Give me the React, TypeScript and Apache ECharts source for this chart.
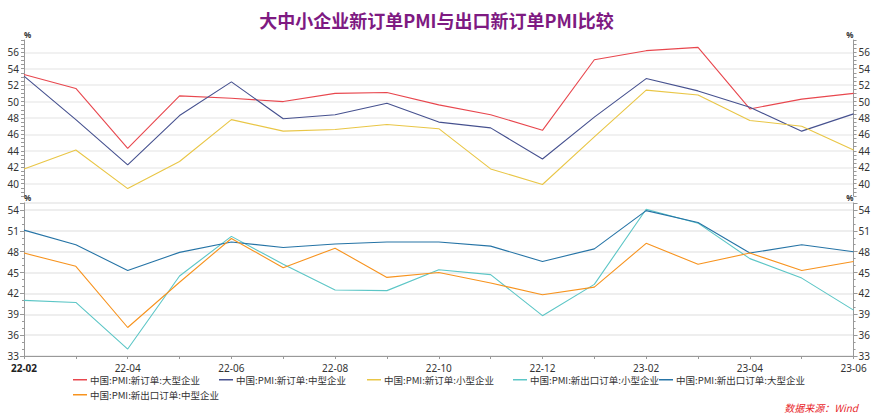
import React, { useEffect, useRef } from "react";
import * as echarts from "echarts";

const months = ["22-02","22-03","22-04","22-05","22-06","22-07","22-08","22-09","22-10","22-11","22-12","23-01","23-02","23-03","23-04","23-05","23-06"];

const newOrderLarge = [53.3,51.6,44.3,50.7,50.4,50.0,51.0,51.1,49.6,48.4,46.5,55.1,56.2,56.6,49.1,50.3,51.0];
const newOrderMedium = [53.1,47.8,42.3,48.3,52.4,47.9,48.4,49.8,47.5,46.8,43.0,48.1,52.8,51.3,49.3,46.4,48.5];
const newOrderSmall = [41.8,44.1,39.4,42.7,47.8,46.4,46.6,47.2,46.7,41.8,39.9,45.7,51.4,50.8,47.7,47.0,44.1];

const exportSmall = [41.0,40.7,34.0,44.5,50.2,46.2,42.5,42.4,45.4,44.7,38.8,43.3,54.1,52.1,47.0,44.2,39.6];
const exportLarge = [51.1,49.0,45.3,47.9,49.4,48.6,49.1,49.4,49.4,48.8,46.6,48.4,53.9,52.2,47.8,49.0,48.0];
const exportMedium = [47.8,45.9,37.1,43.6,49.9,45.7,48.5,44.3,45.0,43.5,41.8,42.9,49.2,46.2,47.8,45.3,46.6];

const topTicks = [40,42,44,46,48,50,52,54,56];

const names = [
  "中国:PMI:新订单:大型企业",
  "中国:PMI:新订单:中型企业",
  "中国:PMI:新订单:小型企业",
  "中国:PMI:新出口订单:小型企业",
  "中国:PMI:新出口订单:大型企业",
  "中国:PMI:新出口订单:中型企业",
];
const colors = ["#E8474E", "#46518F", "#E9C646", "#5CC6C6", "#2674A6", "#F7931E"];

const FONT = "'Noto Sans', 'Noto Sans CJK SC', sans-serif";
const CJK = "'Noto Sans CJK SC', 'Noto Sans', sans-serif";

export default function App() {
  const ref = useRef<HTMLDivElement>(null);
  useEffect(() => {
    if (!ref.current) return;
    const chart = echarts.init(ref.current, undefined, { renderer: "svg" });

    const yCommon = (pos: "left" | "right") => ({
      type: "value",
      position: pos,
      name: "%",
      nameLocation: "end",
      nameGap: 2,
      nameTextStyle: {
        fontSize: 8,
        fontWeight: "bold",
        color: "#333",
        align: pos === "left" ? "left" : "right",
        fontFamily: FONT,
      },
      axisLine: { show: true, lineStyle: { color: "#999", width: 1 } },
      axisLabel: { color: "#333", fontSize: 10, fontFamily: FONT, margin: 5 },
    });

    const topY = (pos: "left" | "right") => ({
      ...yCommon(pos),
      gridIndex: 0,
      min: 38.5,
      max: 57.5,
      interval: 0.5,
      axisTick: { show: true, length: 3, lineStyle: { color: "#999" } },
      axisLabel: {
        color: "#333",
        fontSize: 10,
        fontFamily: FONT,
        margin: 5,
        interval: 0,
        formatter: (v: number) => (topTicks.includes(v) ? String(v) : ""),
      },
      splitLine: { show: false },
    });

    const botY = (pos: "left" | "right") => ({
      ...yCommon(pos),
      gridIndex: 1,
      min: 33,
      max: 55,
      interval: 3,
      axisTick: { show: true, length: 4, lineStyle: { color: "#999" } },
      axisLabel: { color: "#333", fontSize: 10, fontFamily: FONT, margin: 5, lineHeight: 10 },
      minorTick: { show: true, splitNumber: 3, length: 2, lineStyle: { color: "#999" } },
      splitLine: { show: true, lineStyle: { color: "#ececec", width: 1.5 } },
    });

    const line = (i: number, data: number[], xIdx: number, yIdx: number, extra: any = {}) => ({
      name: names[i],
      type: "line",
      xAxisIndex: xIdx,
      yAxisIndex: yIdx,
      data,
      symbol: "none",
      lineStyle: { color: colors[i], width: 1.1 },
      itemStyle: { color: colors[i] },
      ...extra,
    });

    const legendPos = [
      [73, 375], [219, 375], [367, 375], [513, 375], [659, 375], [73, 390],
    ];

    chart.setOption({
      animation: false,
      backgroundColor: "#fff",
      title: {
        text: "大中小企业新订单PMI与出口新订单PMI比较",
        left: "center",
        top: 6,
        textStyle: { fontSize: 18, fontWeight: "bold", color: "#7E1A82", fontFamily: CJK },
      },
      legend: names.map((n, i) => ({
        data: [n],
        left: legendPos[i][0],
        top: legendPos[i][1],
        icon: "rect",
        itemWidth: 14,
        itemHeight: 1.5,
        padding: 0,
        textStyle: { fontSize: 9.5, color: "#333", fontFamily: CJK, padding: [0, 0, 0, -2] },
      })),
      grid: [
        { left: 24, right: 15, top: 40, height: 156 },
        { left: 24, right: 15, top: 203, height: 153 },
      ],
      xAxis: [
        { type: "category", gridIndex: 0, data: months, boundaryGap: false, show: false },
        {
          type: "category",
          gridIndex: 1,
          data: months,
          boundaryGap: false,
          axisLine: { lineStyle: { color: "#999" } },
          axisTick: { show: true, interval: 0, length: 3, lineStyle: { color: "#999" } },
          axisLabel: {
            interval: 1,
            color: "#333",
            fontSize: 10,
            fontFamily: FONT,
            margin: 6,
            lineHeight: 11,
            formatter: (v: string, idx: number) => (idx === 0 ? "{b|" + v + "}" : v),
            rich: { b: { fontWeight: "bold", fontSize: 10, color: "#222", fontFamily: FONT, lineHeight: 11 } },
          },
          splitLine: { show: false },
        },
      ],
      yAxis: [topY("left"), topY("right"), botY("left"), botY("right")],
      series: [
        line(0, newOrderLarge, 0, 0, {
          markLine: {
            silent: true,
            symbol: "none",
            label: { show: false },
            lineStyle: { color: "#ececec", type: "solid", width: 1.5 },
            data: topTicks.map((t) => ({ yAxis: t })),
            z: 0,
          },
        }),
        line(1, newOrderMedium, 0, 0),
        line(2, newOrderSmall, 0, 0),
        line(3, exportSmall, 1, 2),
        line(4, exportLarge, 1, 2),
        line(5, exportMedium, 1, 2),
      ],
      graphic: [
        {
          type: "text",
          right: 15,
          top: 402,
          style: {
            text: "数据来源：Wind",
            fill: "#E8282B",
            fontSize: 10,
            fontStyle: "italic",
            fontFamily: CJK,
          },
        },
      ],
    });
    return () => chart.dispose();
  }, []);
  return <div ref={ref} style={{ position: "absolute", left: 0, top: 0, width: 873, height: 414 }} />;
}
